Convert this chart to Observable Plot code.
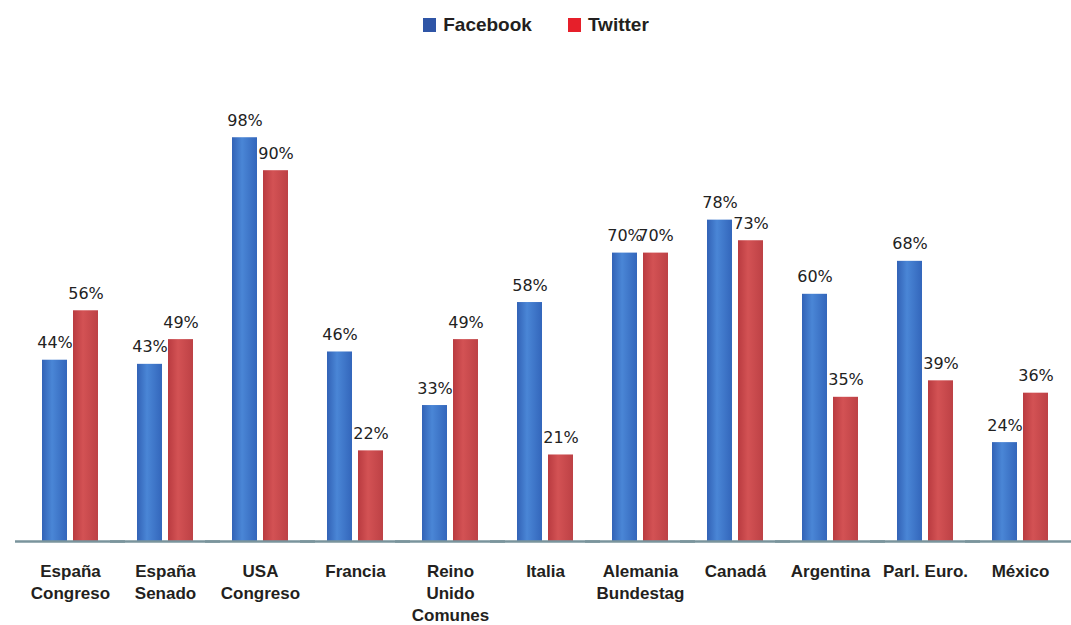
<!DOCTYPE html>
<html><head><meta charset="utf-8">
<script src="https://cdn.jsdelivr.net/npm/d3@7"></script>
<script src="https://cdn.jsdelivr.net/npm/@observablehq/plot@0.6"></script>
<style>
body{margin:0;background:#fff;font-family:"Liberation Sans",Arial,sans-serif;}
#legend{height:50px;display:flex;justify-content:center;align-items:center;font-weight:bold;font-size:19px;color:#231f20;padding-left:1px;}
.item{display:flex;align-items:center;margin:0 18px;}
.sw{width:13px;height:14px;margin-right:7px;}
#chart svg{display:block;overflow:visible;}
</style></head><body>
<div id="legend"></div>
<div id="chart"></div>
<script>
const categories = ["España\nCongreso","España\nSenado","USA\nCongreso","Francia","Reino\nUnido\nComunes","Italia","Alemania\nBundestag","Canadá","Argentina","Parl. Euro.","México"];
const series = ["Facebook","Twitter"];
const facebook = [44,43,98,46,33,58,70,78,60,68,24];
const twitter = [56,49,90,22,49,21,70,73,35,39,36];
const legendColors = ["#2f55a6","#e61f2a"];

const legend = document.getElementById("legend");
series.forEach((s,i)=>{
  const it = document.createElement("div"); it.className="item";
  const sw = document.createElement("div"); sw.className="sw"; sw.style.background=legendColors[i];
  const tx = document.createElement("span"); tx.textContent=s;
  it.appendChild(sw); it.appendChild(tx); legend.appendChild(it);
});

const data = categories.flatMap((c,i)=>[
  {cat:c, series:"Facebook", value:facebook[i]},
  {cat:c, series:"Twitter", value:twitter[i]}
]);

const chart = Plot.plot({
  width:1071, height:575, marginTop:79, marginBottom:84, marginLeft:20, marginRight:1,
  style:{fontFamily:"Liberation Sans, Arial, sans-serif", background:"#fff"},
  fx:{domain:categories, paddingInner:0.407, paddingOuter:0.215, label:null},
  x:{domain:series, paddingInner:0.206, paddingOuter:0, axis:null},
  y:{domain:[0,100], axis:null},
  marks:[
    Plot.barY(data,{filter:d=>d.series==="Facebook", fx:"cat", x:"series", y:"value", fill:"url(#gradFacebook)"}),
    Plot.barY(data,{filter:d=>d.series==="Twitter", fx:"cat", x:"series", y:"value", fill:"url(#gradTwitter)"}),
    Plot.ruleY([0],{stroke:"#7a949c", strokeWidth:2.5, insetLeft:-27, insetRight:-27}),
    Plot.text(data,{fx:"cat", x:"series", y:"value", text:d=>d.value+"%", lineAnchor:"bottom", dy:-12, fontSize:16, fontFamily:"DejaVu Sans", fill:"#222", letterSpacing:-0.6}),
    Plot.axisFx({anchor:"bottom", tickSize:0, tickPadding:20, fontSize:17, fontWeight:"bold", lineHeight:1.3, fill:"#231f20", label:null})
  ]
});
chart.insertAdjacentHTML("afterbegin", `<defs>
<linearGradient id="gradFacebook" x1="0" x2="1" y1="0" y2="0">
<stop offset="0" stop-color="#3262b6"/><stop offset="0.4" stop-color="#4a86d6"/><stop offset="1" stop-color="#3366bb"/>
</linearGradient>
<linearGradient id="gradTwitter" x1="0" x2="1" y1="0" y2="0">
<stop offset="0" stop-color="#b93b40"/><stop offset="0.4" stop-color="#d35254"/><stop offset="1" stop-color="#bd4145"/>
</linearGradient></defs>`);
document.getElementById("chart").appendChild(chart);
</script>
</body></html>
